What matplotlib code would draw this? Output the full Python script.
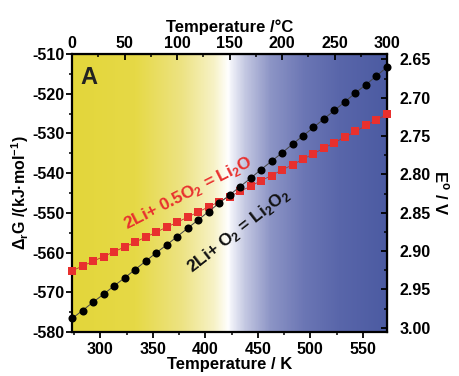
import numpy as np
import matplotlib
matplotlib.use("Agg")
import matplotlib.pyplot as plt
from matplotlib.colors import LinearSegmentedColormap

# ---------------- data ----------------
temperature_K = [273, 283, 293, 303, 313, 323, 333, 343, 353, 363, 373,
                 383, 393, 403, 413, 423, 433, 443, 453, 463, 473,
                 483, 493, 503, 513, 523, 533, 543, 553, 563, 573]
dG_Li2O2 = [-576.6, -574.6, -572.5, -570.5, -568.4, -566.4, -564.3, -562.2,
            -560.1, -558.1, -556.0, -553.9, -551.8, -549.7, -547.6, -545.5,
            -543.4, -541.3, -539.1, -537.0, -534.9, -532.7, -530.6, -528.5,
            -526.3, -524.2, -522.0, -519.8, -517.7, -515.5, -513.3]
dG_Li2O = [-564.6, -563.4, -562.2, -561.0, -559.8, -558.6, -557.4, -556.1,
           -554.9, -553.6, -552.4, -551.1, -549.8, -548.5, -547.2, -545.9,
           -544.6, -543.3, -541.9, -540.6, -539.2, -537.9, -536.5, -535.1,
           -533.7, -532.3, -530.9, -529.5, -528.0, -526.6, -525.2]
label_Li2O = "2Li+ 0.5O$_\\mathregular{2}$ = Li$_\\mathregular{2}$O"
label_Li2O2 = "2Li+ O$_\\mathregular{2}$ = Li$_\\mathregular{2}$O$_\\mathregular{2}$"

F = 96.485  # kJ/(mol V)

plt.rcParams['font.family'] = ['Liberation Sans', 'DejaVu Sans']
plt.rcParams['font.weight'] = 'bold'
plt.rcParams['axes.labelweight'] = 'bold'
plt.rcParams['axes.unicode_minus'] = False

fig = plt.figure(figsize=(4.59, 3.76), dpi=100)
ax = fig.add_axes([72/459, 44/376, 315/459, 278/376])

# background gradient
cmap = LinearSegmentedColormap.from_list("bg", [
    (0.00, "#e3d63b"),
    (0.20, "#e6d946"),
    (0.35, "#ede384"),
    (0.45, "#f7f2c6"),
    (0.497, "#ffffff"),
    (0.505, "#f1f2f9"),
    (0.55, "#c4c8e2"),
    (0.63, "#8d95c6"),
    (0.74, "#6b76b4"),
    (0.85, "#5966aa"),
    (1.00, "#4c5ba2"),
])
grad = np.linspace(0, 1, 600)[None, :]
ax.imshow(grad, extent=[273, 573, -580, -510], aspect='auto', cmap=cmap,
          zorder=0, interpolation='bilinear')

ax.plot(temperature_K, dG_Li2O, '-', color='#c0302e', lw=0.6, zorder=2)
ax.plot(temperature_K, dG_Li2O, 's', color='#e8302e', ms=5.4, mew=0,
        zorder=3, clip_on=False)
ax.plot(temperature_K, dG_Li2O2, '-', color='#444444', lw=0.7, zorder=4)
ax.plot(temperature_K, dG_Li2O2, 'o', color='#000000', ms=5.8, mew=0,
        zorder=5, clip_on=False)

ax.set_xlim(273, 573)
ax.set_ylim(-580, -510)
ax.set_xticks([300, 350, 400, 450, 500, 550])
ax.set_xticks(np.arange(275, 575, 25), minor=True)
ax.set_yticks(np.arange(-580, -509, 10))
ax.set_yticks(np.arange(-580, -509, 5), minor=True)

for s in ax.spines.values():
    s.set_linewidth(1.6)

TL = 11.5
ax.tick_params(axis='both', which='major', direction='out', length=4,
               width=1.3, labelsize=TL, pad=1.5)
ax.tick_params(axis='both', which='minor', direction='out', length=2.5,
               width=1.1)
ax.tick_params(axis='x', which='major', pad=3)
for lab in ax.get_xticklabels() + ax.get_yticklabels():
    lab.set_fontweight('bold')

ax.set_xlabel("Temperature / K", fontsize=12, fontweight='bold', labelpad=0)
ax.set_ylabel("Δ$_\\mathregular{r}$G /(kJ·mol$^\\mathregular{-1}$)",
              fontsize=11.5, fontweight='bold', labelpad=1)

# top Celsius axis
top = ax.secondary_xaxis('top', functions=(lambda k: k - 273, lambda c: c + 273))
top.set_xticks([0, 50, 100, 150, 200, 250, 300])
top.set_xticks(np.arange(25, 300, 25), minor=True)
top.tick_params(which='major', direction='in', length=4, width=1.3,
                labelsize=TL, pad=2)
top.tick_params(which='minor', direction='in', length=2.5, width=1.1)
for lab in top.get_xticklabels():
    lab.set_fontweight('bold')
top.set_xlabel("Temperature /°C", fontsize=12, fontweight='bold', labelpad=3)

# right potential axis
right = ax.secondary_yaxis('right', functions=(lambda g: -g / (2 * F),
                                               lambda e: -e * 2 * F))
right.set_yticks([2.65, 2.70, 2.75, 2.80, 2.85, 2.90, 2.95, 3.00])
right.set_yticks(np.arange(2.675, 3.0, 0.05), minor=True)
right.yaxis.set_major_formatter(matplotlib.ticker.FormatStrFormatter('%.2f'))
right.tick_params(which='major', direction='in', length=4, width=1.3,
                  labelsize=TL, pad=9)
right.tick_params(which='minor', direction='in', length=2.5, width=1.1)
for lab in right.get_yticklabels():
    lab.set_fontweight('bold')
right.set_ylabel("E$^\\mathregular{o}$ / V", fontsize=12, fontweight='bold',
                 rotation=-90, labelpad=14)

# annotations
ax.text(281, -513.0, "A", fontsize=17, fontweight='bold', ha='left', va='top',
        color='#222222', zorder=6)
ax.text(384, -545.0, label_Li2O, color='#e8302e', fontsize=12.5,
        fontweight='bold', rotation=27, ha='center', va='center',
        rotation_mode='anchor', zorder=6)
ax.text(432, -554.5, label_Li2O2, color='#111111', fontsize=12.5,
        fontweight='bold', rotation=38, ha='center', va='center',
        rotation_mode='anchor', zorder=6)

fig.savefig("out.png", dpi=100)
